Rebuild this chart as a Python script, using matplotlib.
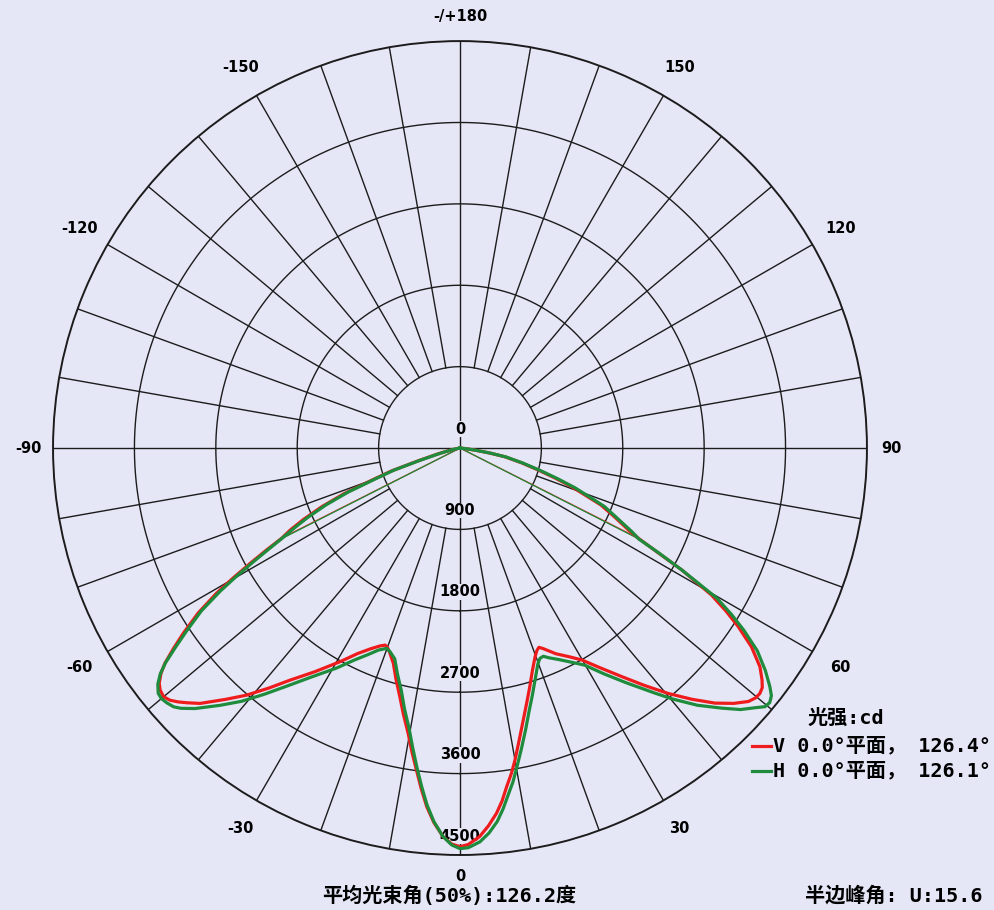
import numpy as np
import matplotlib.pyplot as plt
from matplotlib.lines import Line2D

# luminous intensity (cd); angle in degrees, 0 = straight down
v_angle = [-80, -78, -76, -75, -73, -71.5, -70, -68.5, -67, -65.5, -64.2, -63.2, -62.2,
           -61.2, -60.2, -59.2, -57.8, -56.2, -55, -53.9, -53, -52, -51.1, -50, -49,
           -48, -47, -45.5, -43, -40.8, -38.5, -36.2, -33, -29.3, -26.5, -24, -22,
           -20.8, -20, -19, -17.2, -15.5, -13.6, -12, -10.3, -9, -7.7, -6.5, -5.3, -4,
           -2.5, -1.2, 0, 1.2, 2.9, 4.3, 5.7, 6.8, 7.85, 9, 10, 11.5, 13.1, 14.7, 16.3,
           18, 19.8, 20.8, 21.6, 22.5, 25, 27.5, 29.9, 32.5, 35.3, 37.8, 40.3, 42.7, 45,
           47, 48.7, 49.8, 50.7, 51.6, 52.5, 53.9, 55.7, 57.3, 58.5, 59.7, 61.2, 62.2,
           63.2, 64, 66, 68, 70.9, 72.5, 74.3, 76.5, 79, 80.5, 82, 84, 85]
v_cd = [0, 80, 180, 260, 480, 800, 1030, 1380, 1660, 1900, 2087, 2204, 2420,
        2649, 2890, 3133, 3420, 3682, 3870, 4038, 4140, 4220, 4261, 4278, 4250,
        4195, 4130, 4029, 3800, 3609, 3390, 3180, 2950, 2709, 2540, 2430, 2360,
        2331, 2345, 2390, 2492, 2650, 2829, 3010, 3206, 3400, 3593, 3790, 3982, 4150,
        4301, 4380, 4408, 4385, 4301, 4190, 4060, 3930, 3780, 3640, 3503, 3290, 3087, 2910, 2750,
        2590, 2452, 2395, 2370, 2400, 2510, 2600, 2703, 2880, 3097, 3320, 3558, 3780, 3989,
        4140, 4246, 4280, 4285, 4265, 4210, 4105, 3902, 3657, 3450, 3220, 2800, 2460,
        2204, 2080, 1870, 1680, 1307, 1100, 899, 700, 507, 330, 168, 50, 0]

h_angle = [-80, -78, -76, -75, -73, -71.5, -70, -68.5, -67, -65.5, -64.2, -63.05, -62.2,
           -61.2, -60.2, -59.2, -57.8, -56.2, -55, -53.9, -53, -52, -50.9, -50, -49,
           -47.9, -47, -45.5, -43, -40.8, -38.5, -36.2, -33, -29.3, -26.5, -24, -22,
           -20.1, -19, -17.2, -15.5, -13.6, -12, -10.3, -9, -7.7, -6.5, -5.3, -4,
           -2.5, -1.2, 0, 1.2, 2.9, 4.3, 5.7, 6.8, 7.85, 9, 10, 11.5, 13.1, 14.7, 16.3,
           18, 19.8, 20.8, 21.8, 23, 25, 27.5, 29.9, 32.5, 35.3, 38.5, 40.3, 42.7, 45.2,
           47, 48.7, 49.7, 50.6, 51.5, 52.4, 53.9, 55.7, 57.3, 58.5, 59.7, 61.2, 62.2,
           63.05, 64, 66, 68, 70.9, 72.5, 74.3, 76.5, 79, 80.5, 82, 84, 85]
h_cd = [0, 70, 160, 230, 450, 770, 990, 1330, 1610, 1850, 2040, 2215, 2380,
        2600, 2840, 3080, 3380, 3640, 3840, 4030, 4150, 4240, 4300, 4310, 4295,
        4268, 4220, 4110, 3890, 3700, 3480, 3270, 3020, 2790, 2620, 2500, 2410,
        2358, 2380, 2440, 2590, 2760, 2950, 3150, 3350, 3560, 3760, 3960, 4140,
        4300, 4390, 4430, 4420, 4360, 4270, 4150, 4020, 3880, 3740, 3600, 3400, 3200, 3010, 2850,
        2690, 2540, 2488, 2480, 2520, 2580, 2670, 2770, 2960, 3180, 3463, 3640, 3870, 4082,
        4240, 4350, 4422, 4433, 4400, 4325, 4180, 3980, 3730, 3520, 3290, 2800, 2480,
        2215, 2120, 1900, 1720, 1350, 1140, 930, 720, 520, 340, 180, 55, 0]

ring_values = [900, 1800, 2700, 3600, 4500]
label_angles = [0, 30, 60, 90, 120, 150, 180, -150, -120, -90, -60, -30]
label_texts = ['0', '30', '60', '90', '120', '150', '-/+180', '-150', '-120', '-90', '-60', '-30']

beam_v = 126.4
beam_h = 126.1
beam_avg = 126.2
peak_u = 15.6

red = '#ee1c1c'
green = '#1e8c3c'
grid_c = '#1c1c1c'
bg = '#e5e7f7'

fig = plt.figure(figsize=(9.95, 9.1), dpi=100, facecolor=bg)
ax = fig.add_axes([0.0533, 0.0604, 0.818, 0.8945], projection='polar')
ax.set_facecolor(bg)
ax.set_theta_zero_location('S')
ax.set_theta_direction(1)
rmax = ring_values[-1]
ax.set_ylim(0, rmax)
ax.set_xticks([])
ax.set_yticks([])
ax.grid(False)
ax.spines['polar'].set_color(grid_c)
ax.spines['polar'].set_linewidth(1.4)

# rings
t = np.linspace(0, 2 * np.pi, 721)
for rv in ring_values[:-1]:
    ax.plot(t, np.full_like(t, rv), color=grid_c, lw=1.0, zorder=2)

# spokes every 10 deg start at the first ring, main axes go through the centre
for a in range(0, 360, 10):
    r0 = 0 if a % 90 == 0 else ring_values[0]
    ax.plot([np.deg2rad(a)] * 2, [r0, rmax], color=grid_c, lw=1.0, zorder=2)

# ring values along the lower axis, the "0" sits just above the centre
lbl = dict(ha='center', va='center', fontsize=10.5, fontweight='bold', zorder=3)
ax.text(np.pi, 210, '0', bbox=dict(fc=bg, ec='none', pad=0.3), **lbl)
for rv in ring_values:
    ax.text(0, rv - 210, str(rv), bbox=dict(fc=bg, ec='none', pad=0.3), **lbl)

for a, s in zip(label_angles, label_texts):
    k = 1.06 if a % 90 == 0 else 1.08
    if a == 0:
        k = 1.052
    ax.text(np.deg2rad(a), rmax * k, s, clip_on=False, **lbl)

ax.plot(np.deg2rad(v_angle), v_cd, color=red, lw=2.3, zorder=5)
ax.plot(np.deg2rad(h_angle), h_cd, color=green, lw=2.3, zorder=5)

# 50% beam lines from the centre
for beam, cd, c in [(beam_v, v_cd, red), (beam_h, h_cd, green)]:
    half = max(cd) / 2
    for s in (-1, 1):
        ax.plot([0, np.deg2rad(s * beam / 2)], [0, half], color=c, lw=0.9, zorder=4)

# legend and notes
mono = ['DejaVu Sans Mono', 'Noto Sans CJK SC']
txt = dict(family=mono, fontsize=14.5, fontweight='bold', va='center')
fig.text(808 / 995, 1 - 718 / 910, '光强:cd', **txt)
for y, c, s in [(746, red, f'V 0.0°平面， {beam_v}°'), (771, green, f'H 0.0°平面， {beam_h}°')]:
    fig.add_artist(Line2D([752 / 995, 771 / 995], [1 - y / 910] * 2, color=c, lw=2.3))
    fig.text(773 / 995, 1 - y / 910, s, **txt)

fig.text(322 / 995, 1 - 896 / 910, f'平均光束角(50%):{beam_avg}度', **txt)
fig.text(805 / 995, 1 - 896 / 910, f'半边峰角: U:{peak_u}', **txt)

fig.savefig('out.png', dpi=100, facecolor=bg)
